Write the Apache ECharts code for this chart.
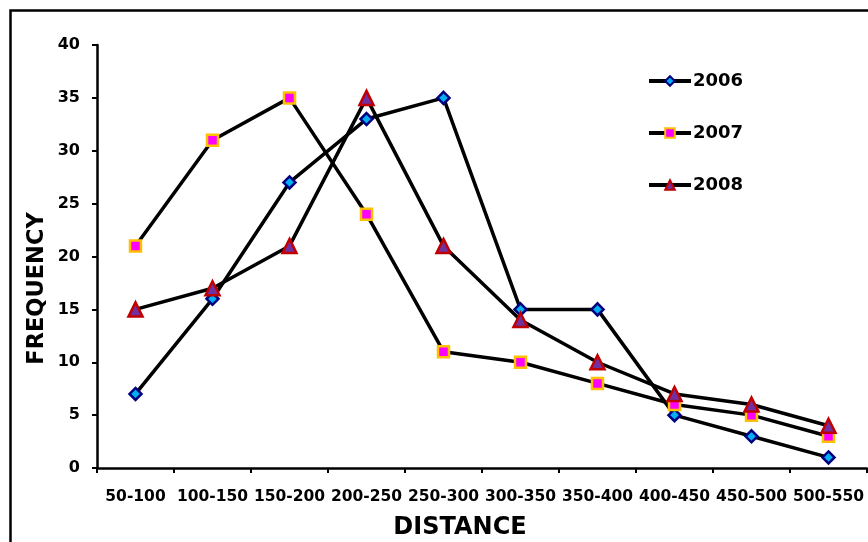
<!DOCTYPE html>
<html><head><meta charset="utf-8">
<script src="https://cdn.jsdelivr.net/npm/echarts@6/dist/echarts.min.js"></script>
<style>html,body{margin:0;padding:0;background:#fff}#c{width:868px;height:542px}</style>
</head><body><div id="c"></div>
<script>
const categories = ['50-100','100-150','150-200','200-250','250-300','300-350','350-400','400-450','450-500','500-550'];
const s2006 = [7,16,27,33,35,15,15,5,3,1];
const s2007 = [21,31,35,24,11,10,8,6,5,3];
const s2008 = [15,17,21,35,21,14,10,7,6,4];
const yTicks = [0,5,10,15,20,25,30,35,40];

const F = '"DejaVu Sans", sans-serif';
const chart = echarts.init(document.getElementById('c'), null, {renderer:'canvas'});
function ser(name, data, symbol, size, fill, border, bw){
  return {name, type:'line', data, symbol, symbolSize:size, showAllSymbol:true,
    lineStyle:{color:'#000', width:3.5},
    itemStyle:{color:fill, borderColor:border, borderWidth:bw},
    emphasis:{disabled:true}, animation:false, z:2};
}
chart.setOption({
  animation:false,
  backgroundColor:'#fff',
  graphic:[{type:'rect', left:8, top:8, shape:{width:900, height:600}, style:{fill:'none', stroke:'#000', lineWidth:2.5}, z:-1}],
  grid:{left:97, right:1, top:45, bottom:74, containLabel:false, outerBoundsMode:'none'},
  legend:{orient:'vertical', left:647, top:72, padding:0, itemWidth:42, itemHeight:12, itemGap:34,
    lineStyle:{width:4},
    textStyle:{fontFamily:F, fontWeight:'bold', fontSize:18, color:'#000', padding:[0,0,0,-3]},
    data:['2006','2007','2008']},
  xAxis:{type:'category', data:categories, boundaryGap:true,
    axisLine:{lineStyle:{color:'#000', width:2.5}},
    axisTick:{show:true, length:5, lineStyle:{color:'#000', width:2}},
    axisLabel:{interval:0, fontFamily:F, fontWeight:'bold', fontSize:15.5, color:'#000', margin:21},
    name:'DISTANCE', nameLocation:'middle', nameGap:48,
    nameTextStyle:{fontFamily:F, fontWeight:'bold', fontSize:24, color:'#000', padding:[0,44,0,0]}},
  yAxis:{type:'value', min:0, max:40, interval:5,
    axisLine:{show:true, lineStyle:{color:'#000', width:2.5}},
    axisTick:{show:true, length:5, lineStyle:{color:'#000', width:2}},
    splitLine:{show:false},
    axisLabel:{fontFamily:F, fontWeight:'bold', fontSize:16, color:'#000', margin:17,
      formatter:v=>yTicks.includes(v)?String(v):''},
    name:'FREQUENCY', nameLocation:'middle', nameGap:48, nameRotate:90, nameMoveOverlap:false,
    nameTextStyle:{fontFamily:F, fontWeight:'bold', fontSize:22.5, color:'#000', padding:[0,64,0,0]}},
  series:[
    ser('2006', s2006, 'diamond', 12, '#00B0F0', '#000080', 2.5),
    ser('2007', s2007, 'rect', 11, '#FF00FF', '#FFC000', 2.5),
    ser('2008', s2008, 'triangle', 14, '#7030A0', '#C00000', 2.5)
  ]
});
</script></body></html>
